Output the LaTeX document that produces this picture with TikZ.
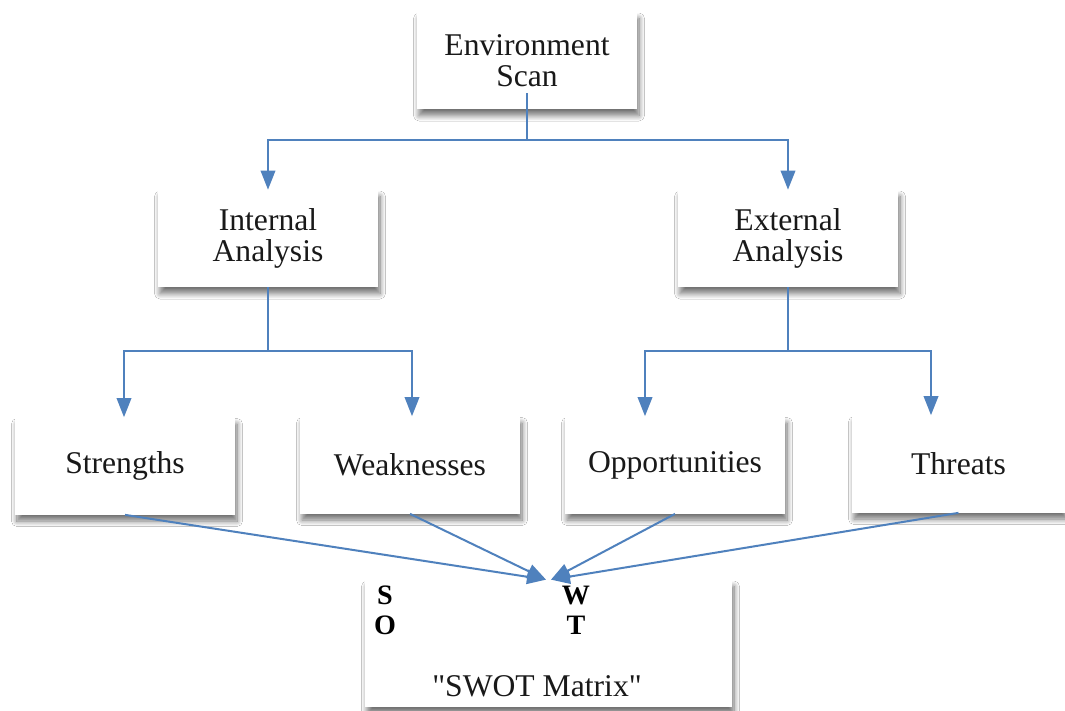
\documentclass[tikz,border=0pt]{standalone}
\usepackage{fontspec}
\setmainfont{Liberation Serif}
\usepackage{xcolor}
\usepackage{tikz}
\usetikzlibrary{positioning, arrows.meta, shadows.blur}
\definecolor{linkblue}{RGB}{79,129,189}

\begin{document}
\begin{tikzpicture}[x=0.2mm, y=-0.2mm,
		font=\fontsize{18}{17.6}\selectfont,
		box/.style={
			rectangle,
			fill=white,
			align=center,
			text=black!90,
			inner sep=0pt,
			minimum width=#1,
			minimum height=19.4mm,
			blur shadow={shadow xshift=0.4mm, shadow yshift=-1.3mm, shadow blur radius=1.1mm, shadow blur steps=10, shadow opacity=55}},
		box/.default=44mm,
		link/.style={draw=linkblue, line width=0.4mm, -{Triangle[length=3.8mm, width=2.9mm]}},
		letter/.style={font=\fontsize{16}{16}\selectfont\bfseries, inner sep=0pt}
		]
		\useasboundingbox (0,0) rectangle (1065,711);
		\fill[white] (0,0) rectangle (1065,711);
		\node [box] (env) at (527, 60.5) {Environment\\Scan};
		\node [box] (intl) at (268, 238.5) {Internal\\Analysis};
		\node [box] (extl) at (788, 238.5) {External\\Analysis};
		\node [box] (str) at (125, 466) {Strengths};
		\node [box] (wea) at (410, 465) {Weaknesses};
		\node [box] (opp) at (675, 465) {Opportunities};
		\node [box=42.6mm] (thr) at (958.5, 464) {Threats};
		\node [box=73.4mm, minimum height=25.4mm] (swot) at (548.5, 643.5) {};
		\node [letter] (ls) at (385, 595) {S};
		\node [letter] (lo) at (385, 625) {O};
		\node [letter] (lw) at (576, 595) {W};
		\node [letter] (lt) at (576, 625) {T};
		\node [text=black!90] (mat) at (537, 686) {\textquotedbl SWOT Matrix\textquotedbl};
		\draw[link] ([yshift=3.2mm]env.south) -- ++(0,47) -| (intl.north);
		\draw[link] ([yshift=3.2mm]env.south) -- ++(0,47) -| (extl.north);
		\draw[link] (intl.south) -- ++(0,64) -| ([xshift=-0.2mm]str.north);
		\draw[link] (intl.south) -- ++(0,64) -| ([xshift=0.4mm]wea.north);
		\draw[link] (extl.south) -- ++(0,64) -| ([xshift=-6mm]opp.north);
		\draw[link] (extl.south) -- ++(0,64) -| ([xshift=-5.5mm]thr.north);
		\draw[link] (str.south) -- ([xshift=-0.5mm]swot.north);
		\draw[link] (wea.south) -- ([xshift=-0.5mm]swot.north);
		\draw[link] (opp.south) -- ([xshift=0.5mm]swot.north);
		\draw[link] (thr.south) -- ([xshift=0.5mm]swot.north);
\end{tikzpicture}
\end{document}
